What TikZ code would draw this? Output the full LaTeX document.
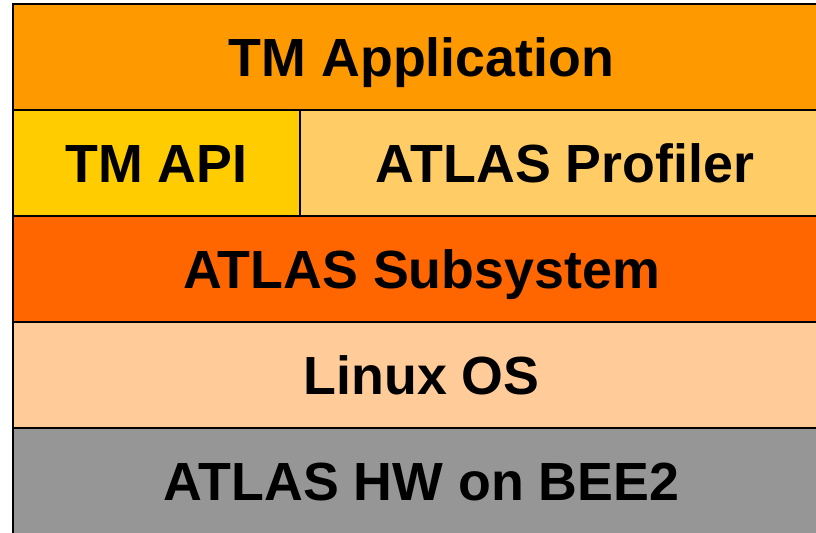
\documentclass[tikz,border=0pt]{standalone}
\usepackage{fontspec}
\setmainfont{Liberation Sans}
\definecolor{appc}{HTML}{FF9900}
\definecolor{apic}{HTML}{FFCC00}
\definecolor{profc}{HTML}{FFCC66}
\definecolor{subc}{HTML}{FF6600}
\definecolor{linc}{HTML}{FFCC99}
\definecolor{hwc}{HTML}{969696}
\tikzset{
  layer/.style={draw=black, line width=2.2pt, inner sep=0pt, minimum height=79.5pt,
    text height=29.25pt, text depth=0pt,
    font=\fontsize{40.3}{46}\selectfont\bfseries},
}
\begin{document}
\begin{tikzpicture}[x=0.75pt, y=-0.75pt]
\clip (0,0) rectangle (816,532);
\node[layer, fill=appc, minimum width=612.75pt] (app) at (421.5,57) {TM Application};
\node[layer, fill=apic, minimum width=215.25pt] (api) at (156.5,163) {TM API};
\node[layer, fill=profc, minimum width=397.5pt] (prof) at (565,163) {ATLAS Profiler};
\node[layer, fill=subc, minimum width=612.75pt] (sub) at (421.5,269) {ATLAS Subsystem};
\node[layer, fill=linc, minimum width=612.75pt] (lin) at (421.5,375) {Linux OS};
\node[layer, fill=hwc, minimum width=612.75pt] (hw) at (421.5,481) {ATLAS HW on BEE2};
\end{tikzpicture}
\end{document}
